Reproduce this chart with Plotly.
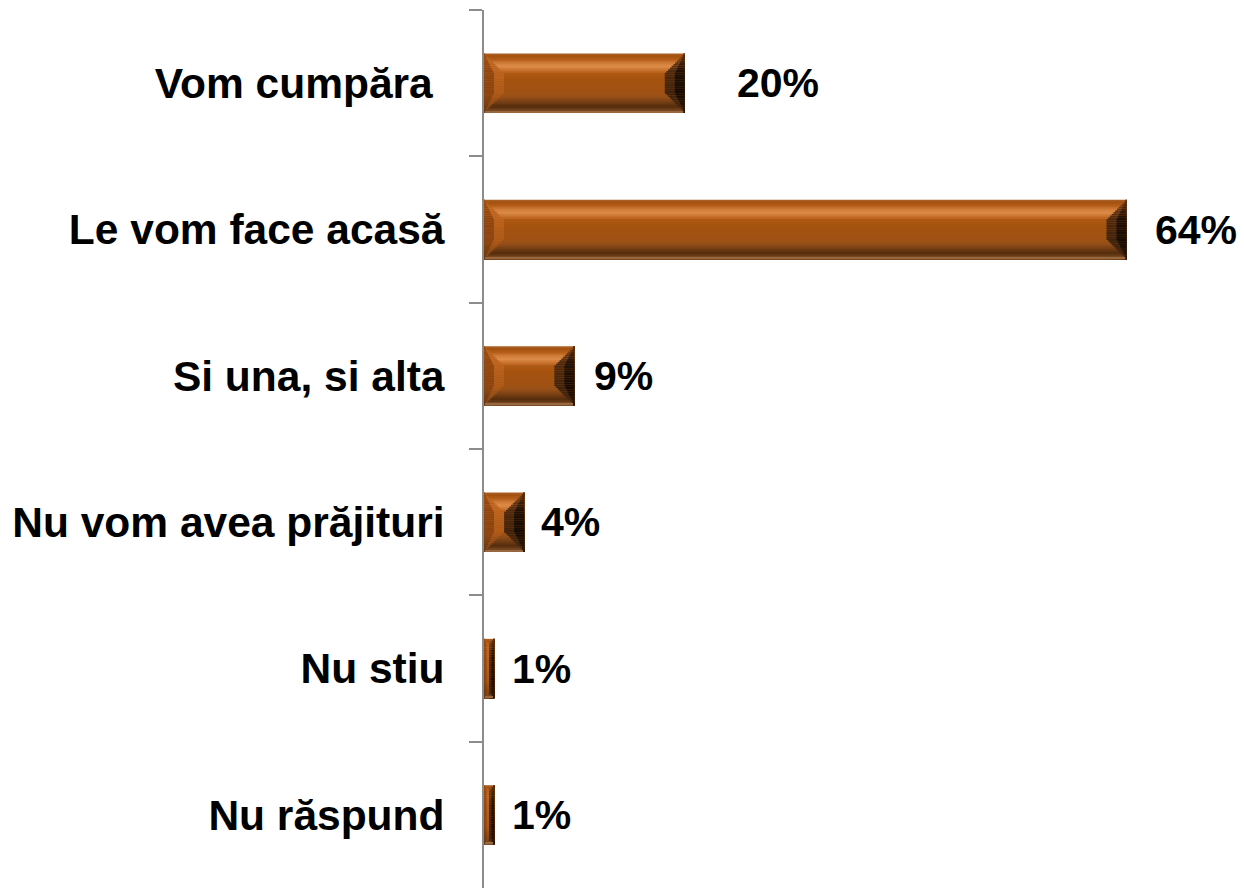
import plotly.graph_objects as go

# Survey answers and shares (%)
categories = ["Vom cumpăra\u00a0", "Le vom face acasă", "Si una, si alta",
              "Nu vom avea prăjituri", "Nu stiu", "Nu răspund"]
values = [20, 64, 9, 4, 1, 1]
value_labels = ["20%", "64%", "9%", "4%", "1%", "1%"]
label_shift = [50, 26, 18, 15, 16, 16]   # px gap between bar end and its label

W, H = 1244, 888
M_L, M_R, M_T, M_B = 484, 0, 10, 0
X_MAX = 75.7
BAR_W = 0.405            # bar thickness in category units
BEVEL_PX = 20            # bevel size in pixels
N_STRIPES = 34
FONT = "Liberation Sans, Arial, sans-serif"

plot_w = W - M_L - M_R
plot_h = H - M_T - M_B
px_per_x = plot_w / X_MAX
px_per_cat = plot_h / len(categories)
bar_px = BAR_W * px_per_cat


def hex2rgb(h):
    h = h.lstrip("#")
    return tuple(int(h[i:i + 2], 16) for i in (0, 2, 4))


def interp(profile, t):
    if t <= profile[0][0]:
        return profile[0][1]
    for (t0, c0), (t1, c1) in zip(profile, profile[1:]):
        if t0 <= t <= t1:
            a = (t - t0) / (t1 - t0) if t1 > t0 else 0
            r0, r1 = hex2rgb(c0), hex2rgb(c1)
            return "rgb(%d,%d,%d)" % tuple(round(r0[i] + (r1[i] - r0[i]) * a) for i in range(3))
    return profile[-1][1]


# vertical colour profile of the bevelled face (t as fraction of thickness)
face_profile = [(0.00, "#B06A36"), (0.03, "#A0500E"), (0.10, "#B35C17"), (0.17, "#D4803D"),
                (0.22, "#DC8A47"), (0.28, "#C9722F"), (0.34, "#AD5812"), (0.45, "#A5520F"),
                (0.70, "#9E5215"), (0.76, "#8E4B18"), (0.84, "#6C3A12"), (0.90, "#552D0E"),
                (0.95, "#6E4019"), (1.00, "#A8774F")]
left_out_profile = [(0.0, "#9A4C10"), (0.3, "#8F4611"), (0.7, "#8A4512"), (1.0, "#6A3812")]
left_in_profile = [(0.0, "#B8631E"), (0.3, "#BE6520"), (0.7, "#AE5A18"), (1.0, "#7E4416")]
right_in_profile = [(0.0, "#7A4116"), (0.3, "#4E2A10"), (0.7, "#3E220D"), (1.0, "#4A2A12")]
right_out_profile = [(0.0, "#5A2E0E"), (0.3, "#1E1006"), (0.7, "#160B04"), (1.0, "#2A170A")]

fig = go.Figure()
stripe = BAR_W / N_STRIPES
for i in range(N_STRIPES):
    f = (i + 0.5) / N_STRIPES
    t_px = f * bar_px
    dv = min(t_px, bar_px - t_px)
    bev_px = min(dv, BEVEL_PX)
    # each stripe runs from its own top edge to the bar's bottom edge;
    # the next stripe paints over the lower part, so no seams appear
    offset = -BAR_W / 2 + i * stripe
    width = BAR_W - i * stripe
    segs = {"m": ([], []), "li": ([], []), "lo": ([], []), "ri": ([], []), "ro": ([], [])}
    for v in values:
        bw = min(bev_px / px_per_x, v / 2)
        segs["m"][0].append(0); segs["m"][1].append(v)
        segs["li"][0].append(0); segs["li"][1].append(bw)
        segs["lo"][0].append(0); segs["lo"][1].append(bw / 2)
        segs["ri"][0].append(v - bw); segs["ri"][1].append(bw)
        segs["ro"][0].append(v - bw / 2); segs["ro"][1].append(bw / 2)
    colors = {
        "m": interp(face_profile, f),
        "lo": interp(left_out_profile, f),
        "li": interp(left_in_profile, f),
        "ri": interp(right_in_profile, f),
        "ro": interp(right_out_profile, f),
    }
    for key in ["m", "li", "lo", "ri", "ro"]:
        base, length = segs[key]
        fig.add_trace(go.Bar(
            y=categories, x=length, base=base, orientation="h",
            width=width, offset=offset,
            marker=dict(color=colors[key], line=dict(width=0)),
            hoverinfo="skip", showlegend=False,
        ))

for cat, v, lab, sh in zip(categories, values, value_labels, label_shift):
    fig.add_annotation(x=v, y=cat, text=lab, xanchor="left", yanchor="middle",
                       xshift=sh, showarrow=False,
                       font=dict(family=FONT, size=41, color="black", weight="bold"))

fig.update_layout(
    width=W, height=H,
    margin=dict(l=M_L, r=M_R, t=M_T, b=M_B),
    barmode="overlay",
    plot_bgcolor="white", paper_bgcolor="white",
    xaxis=dict(range=[0, X_MAX], visible=False, showgrid=False, zeroline=False),
    yaxis=dict(type="category", categoryorder="array", categoryarray=categories,
               range=[len(categories) - 0.5, -0.5],
               showline=True, linecolor="#8C8C8C", linewidth=2,
               ticks="outside", ticklen=13, tickwidth=2, tickcolor="#8C8C8C",
               tickson="boundaries", showgrid=False, zeroline=False,
               ticklabelstandoff=29,
               tickfont=dict(family=FONT, size=42.5, color="black", weight="bold")),
)

fig.write_html("out.html")
